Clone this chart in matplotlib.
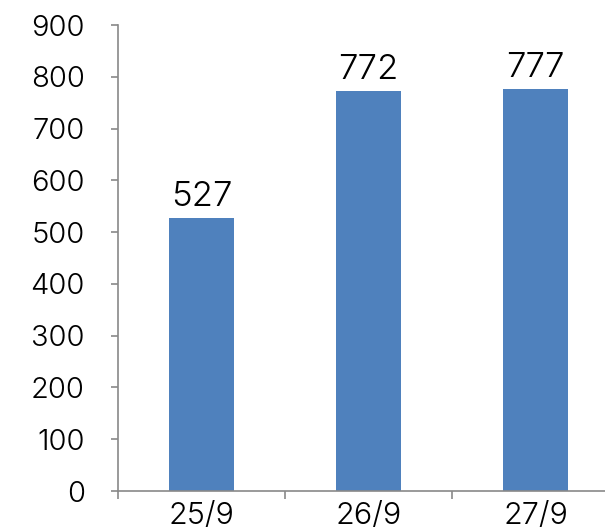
import matplotlib
matplotlib.use("Agg")
import matplotlib.pyplot as plt

plt.rcParams['font.family'] = ['Inter', 'DejaVu Sans']
plt.rcParams['font.weight'] = 300

dates = ["25/9", "26/9", "27/9"]
counts = [527, 772, 777]
y_ticks = [0, 100, 200, 300, 400, 500, 600, 700, 800, 900]

fig = plt.figure(figsize=(6.05, 5.3), dpi=100)
ax = fig.add_axes([118 / 605, 1 - 491 / 530, 501 / 605, (491 - 25) / 530])

positions = list(range(len(dates)))
bars = ax.bar(positions, counts, width=0.39, color="#4F81BD")
for b, v in zip(bars, counts):
    ax.annotate(str(v), (b.get_x() + b.get_width() / 2, v),
                xytext=(0, 8.5), textcoords="offset points",
                ha="center", va="baseline", fontsize=25, color="black")

ax.set_xlim(-0.5, len(dates) - 0.5)
ax.set_ylim(0, 900)
ax.set_yticks(y_ticks)
ax.set_yticklabels([str(t) for t in y_ticks], fontsize=21)

# category labels in the middle, ticks on the boundaries
ax.set_xticks(positions)
ax.set_xticklabels(dates, fontsize=22)
ax.tick_params(axis="x", length=0, pad=8)
ax.set_xticks([p - 0.5 for p in positions] + [len(dates) - 0.5], minor=True)
ax.tick_params(axis="x", which="minor", length=6, color="#898989", width=1.2)
ax.tick_params(axis="y", length=5, color="#898989", width=1.2, pad=19)

for side in ["top", "right"]:
    ax.spines[side].set_visible(False)
for side in ["left", "bottom"]:
    ax.spines[side].set_color("#898989")
    ax.spines[side].set_linewidth(1.2)

fig.savefig("out.png", dpi=100)
